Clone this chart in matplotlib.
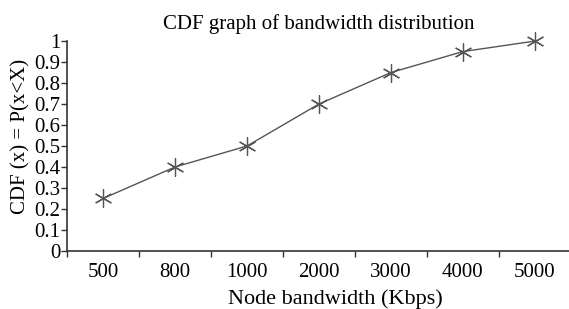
import matplotlib.pyplot as plt

bandwidth = ["500", "800", "1000", "2000", "3000", "4000", "5000"]
cdf = [0.25, 0.40, 0.50, 0.70, 0.85, 0.95, 1.00]
yticks = [0, 0.1, 0.2, 0.3, 0.4, 0.5, 0.6, 0.7, 0.8, 0.9, 1]

plt.rcParams["font.family"] = ["Liberation Serif", "DejaVu Serif"]
plt.rcParams["font.size"] = 15

fig = plt.figure(figsize=(5.69, 3.09), dpi=100)
ax = fig.add_axes([0.118, 0.188, 0.885, 0.679])

x = range(len(bandwidth))
ax.plot(x, cdf, color="#555555", linewidth=1.0,
        marker=(6, 2, 0), markersize=13, markeredgewidth=0.9,
        markeredgecolor="#555555", clip_on=False)

ax.set_xlim(-0.5, len(bandwidth) - 0.5)
ax.set_ylim(0, 1)
ax.set_xticks([i + 0.5 for i in range(-1, len(bandwidth) - 1)])
ax.set_xticklabels([])
ax.set_xticks(list(x), minor=True)
ax.set_xticklabels(bandwidth, minor=True)
ax.tick_params(axis="x", which="major", length=4, width=1, color="#333333")
ax.tick_params(axis="x", which="minor", length=0, pad=9)
ax.set_yticks(yticks)
ax.set_yticklabels([f"{v:g}" for v in yticks])
ax.tick_params(axis="y", length=4, width=1, color="#333333", pad=1)

for s in ["top", "right"]:
    ax.spines[s].set_visible(False)
for s in ["left", "bottom"]:
    ax.spines[s].set_color("#333333")
    ax.spines[s].set_linewidth(1.2)

ax.set_title("CDF graph of bandwidth distribution", fontsize=15, pad=9)
ax.set_xlabel("Node bandwidth (Kbps)", fontsize=16)
ax.xaxis.set_label_coords(0.532, -0.185)
ax.set_ylabel("CDF (x) = P(x<X)")
ax.yaxis.set_label_coords(-0.073, 0.545)

fig.savefig("out.png")
